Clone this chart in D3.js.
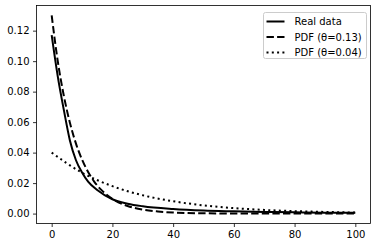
<!DOCTYPE html>
<html>
<head>
<meta charset="utf-8">
<script src="https://cdn.jsdelivr.net/npm/d3@7"></script>
<style>
  html, body { margin: 0; padding: 0; background: #fff; }
  svg { display: block; font-family: "DejaVu Sans", sans-serif; }
</style>
</head>
<body>
<div id="chart"></div>
<script>
/** values */
const realX = [0, 2, 4, 6, 8, 10, 12, 15, 20, 25, 30, 40, 50, 60, 70, 80, 90, 100];
const realY = [0.117, 0.090, 0.068, 0.048, 0.035, 0.027, 0.021, 0.0155, 0.0094, 0.0065, 0.0048, 0.0030, 0.0020, 0.0015, 0.0011, 0.0008, 0.0006, 0.0005];

const pdfHighX = [0, 2, 4, 6, 8, 10, 12, 14, 16, 18, 20, 25, 30, 35, 40, 50, 60, 70, 80, 90, 100];
const pdfHighY = [0.130, 0.100, 0.0773, 0.0596, 0.0459, 0.0354, 0.0273, 0.0210, 0.0162, 0.0125, 0.0096, 0.0050, 0.0026, 0.0014, 0.0007, 0.0002, 0.00005, 0.00001, 0, 0, 0];

const pdfLowX = [0, 10, 20, 30, 40, 50, 60, 70, 80, 90, 100];
const pdfLowY = [0.040, 0.0268, 0.0180, 0.0120, 0.0081, 0.0054, 0.0036, 0.0024, 0.0016, 0.0011, 0.0007];

const xTicks = [0, 20, 40, 60, 80, 100];
const yTicks = [0, 0.02, 0.04, 0.06, 0.08, 0.10, 0.12];

const seriesNames = ["Real data", "PDF (θ=0.13)", "PDF (θ=0.04)"];

/** layout */
const width = 379, height = 248;
const plotLeft = 36.5, plotRight = 370.5, plotTop = 5.5, plotBottom = 223.5;

const svg = d3.select("#chart").append("svg")
  .attr("width", width)
  .attr("height", height);

/** scales */
const x = d3.scaleLinear().domain([-5, 105]).range([plotLeft, plotRight]);
const y = d3.scaleLinear().domain([-0.0065, 0.1365]).range([plotBottom, plotTop]);

const series = [
  { name: seriesNames[0], xs: realX, ys: realY, dash: null },
  { name: seriesNames[1], xs: pdfHighX, ys: pdfHighY, dash: "7.4,3.2" },
  { name: seriesNames[2], xs: pdfLowX, ys: pdfLowY, dash: "2,3.3" },
];

const line = d3.line()
  .curve(d3.curveMonotoneX)
  .x((d) => x(d[0]))
  .y((d) => y(d[1]));

/** draw lines, clipped to axes */
svg.append("clipPath").attr("id", "clip")
  .append("rect")
  .attr("x", plotLeft).attr("y", plotTop)
  .attr("width", plotRight - plotLeft).attr("height", plotBottom - plotTop);

const plot = svg.append("g").attr("clip-path", "url(#clip)");
for (const s of series) {
  plot.append("path")
    .attr("d", line(d3.zip(s.xs, s.ys)))
    .attr("fill", "none")
    .attr("stroke", "black")
    .attr("stroke-width", 2)
    .attr("stroke-dasharray", s.dash);
}

/** axes */
const xAxis = d3.axisBottom(x).tickValues(xTicks).tickSize(3.5).tickPadding(3.5).tickFormat(d3.format("d"));
const yAxis = d3.axisLeft(y).tickValues(yTicks).tickSize(3.5).tickPadding(3.5).tickFormat(d3.format(".2f"));

const gx = svg.append("g").attr("transform", `translate(0,${plotBottom})`).call(xAxis);
const gy = svg.append("g").attr("transform", `translate(${plotLeft},0)`).call(yAxis);
for (const g of [gx, gy]) {
  g.select(".domain").remove();
  g.selectAll(".tick line").attr("stroke", "black").attr("stroke-width", 0.8);
  g.selectAll(".tick text")
    .attr("fill", "black")
    .style("font-size", "10px")
    .style("font-family", "DejaVu Sans, sans-serif");
}

/** frame */
svg.append("rect")
  .attr("x", plotLeft).attr("y", plotTop)
  .attr("width", plotRight - plotLeft).attr("height", plotBottom - plotTop)
  .attr("fill", "none")
  .attr("stroke", "black")
  .attr("stroke-width", 0.8);

/** legend */
const legend = svg.append("g").attr("transform", "translate(263.5,12.5)");
legend.append("rect")
  .attr("width", 103)
  .attr("height", 46)
  .attr("rx", 2)
  .attr("fill", "white")
  .attr("fill-opacity", 0.8)
  .attr("stroke", "#cccccc")
  .attr("stroke-width", 1);

series.forEach((s, i) => {
  const row = 9 + i * 15.5;
  legend.append("line")
    .attr("x1", 3).attr("x2", 21)
    .attr("y1", row).attr("y2", row)
    .attr("stroke", "black")
    .attr("stroke-width", 2)
    .attr("stroke-dasharray", s.dash);
  legend.append("text")
    .attr("x", 31)
    .attr("y", row)
    .attr("dy", "0.35em")
    .style("font-size", "10px")
    .text(s.name);
});
</script>
</body>
</html>
